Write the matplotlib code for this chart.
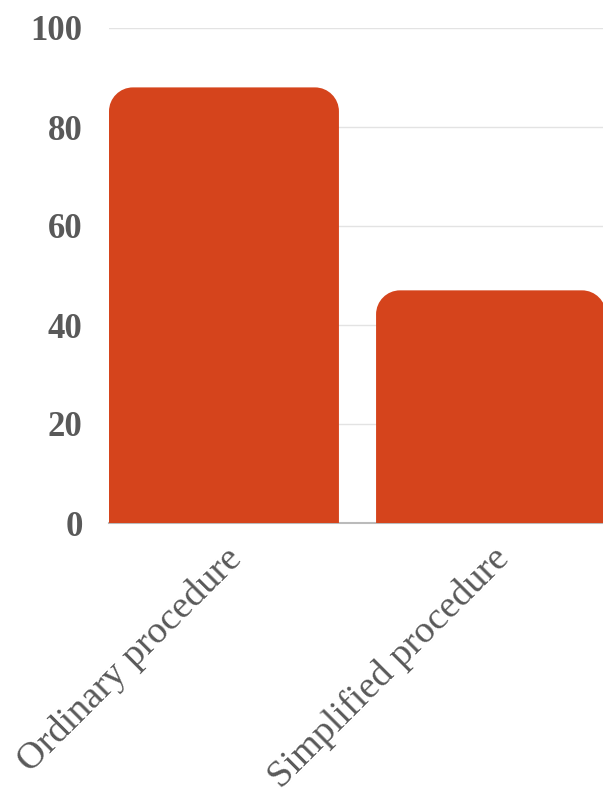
import matplotlib
matplotlib.use("Agg")
import matplotlib.pyplot as plt
from matplotlib.path import Path
from matplotlib.patches import PathPatch
from matplotlib.transforms import IdentityTransform

categories = ["Ordinary procedure", "Simplified procedure"]
values = [88, 47]
yticks = [0, 20, 40, 60, 80, 100]

BAR_COLOR = "#D5441C"
TEXT_COLOR = "#595959"
FONT = ["Liberation Serif", "DejaVu Serif"]

fig = plt.figure(figsize=(6.03, 7.98), dpi=100)
ax = fig.add_axes([109/603, 275/798, 497/603, 495/798])

width = 0.861
x = list(range(len(categories)))
bars = ax.bar(x, values, width=width, color=BAR_COLOR, zorder=3)
ax.set_xlim(-width/2, len(categories) - 1 + width/2)
ax.set_ylim(0, 100)

ax.set_yticks(yticks)
ax.set_yticklabels([str(t) for t in yticks], fontfamily=FONT, fontsize=25,
                   fontweight="bold", color=TEXT_COLOR)
ax.set_xticks(x)
ax.set_xticklabels(categories, fontfamily=FONT, fontsize=27.5, color=TEXT_COLOR,
                   rotation=45, ha="right", va="top", rotation_mode="anchor")
ax.tick_params(axis="y", length=0, pad=19)
ax.tick_params(axis="x", length=0, pad=13)
for lbl in ax.get_xticklabels():
    lbl.set_x(lbl.get_position()[0])

ax.grid(axis="y", color="#e3e3e3", linewidth=1, zorder=0)
for s in ["top", "right", "left"]:
    ax.spines[s].set_visible(False)
ax.spines["bottom"].set_color("#bbbbbb")
ax.spines["bottom"].set_linewidth(1.5)
ax.spines["bottom"].set_zorder(2)

# Rounded top corners, drawn in display space from the bar geometry
fig.canvas.draw()
radius = 24
for b in bars:
    x0, y0 = b.get_x(), b.get_y()
    x1, y1 = x0 + b.get_width(), y0 + b.get_height()
    (px0, py0) = ax.transData.transform((x0, y0))
    (px1, py1) = ax.transData.transform((x1, y1))
    r = min(radius, (px1 - px0) / 2, (py1 - py0))
    k = 0.5523 * r
    verts = [
        (px0, py0),
        (px0, py1 - r),
        (px0, py1 - r + k), (px0 + r - k, py1), (px0 + r, py1),
        (px1 - r, py1),
        (px1 - r + k, py1), (px1, py1 - r + k), (px1, py1 - r),
        (px1, py0),
        (px0, py0),
    ]
    codes = [Path.MOVETO, Path.LINETO,
             Path.CURVE4, Path.CURVE4, Path.CURVE4,
             Path.LINETO,
             Path.CURVE4, Path.CURVE4, Path.CURVE4,
             Path.LINETO, Path.CLOSEPOLY]
    patch = PathPatch(Path(verts, codes), facecolor=BAR_COLOR, edgecolor="none",
                      transform=IdentityTransform(), zorder=3)
    patch.set_clip_path(ax.patch)
    ax.add_artist(patch)
    b.set_visible(False)

fig.savefig("out.png", dpi=100)
